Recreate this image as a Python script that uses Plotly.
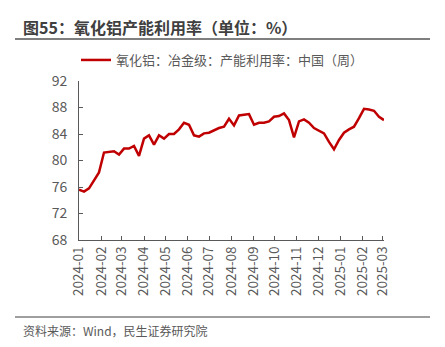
import pandas as pd
import plotly.graph_objects as go

start_date = "2024-01-01"
values = [75.6, 75.3, 75.8, 77.0, 78.2, 81.2, 81.3, 81.4, 80.9, 81.8,
          81.8, 82.2, 80.7, 83.3, 83.8, 82.4, 83.8, 83.3, 84.0, 84.0,
          84.7, 85.7, 85.4, 83.8, 83.6, 84.1, 84.2, 84.6, 84.9,
          85.1, 86.3, 85.3, 86.8, 86.9, 87.0, 85.4, 85.7, 85.7, 85.9,
          86.6, 86.7, 87.1, 86.1, 83.5, 85.9, 86.2, 85.7, 84.9, 84.5,
          84.1, 82.8, 81.7, 83.1, 84.2, 84.7, 85.1, 86.4, 87.8, 87.7,
          87.5, 86.6, 86.1]
dates = pd.date_range(start_date, periods=len(values), freq="7D")
tick_vals = pd.date_range("2024-01-01", "2025-03-01", freq="MS")
tick_text = [d.strftime("%Y-%m") for d in tick_vals]
y_ticks = [68, 72, 76, 80, 84, 88, 92]

series_name = "氧化铝：冶金级：产能利用率：中国（周）"
title = "图55：氧化铝产能利用率（单位：%）"
source = "资料来源：Wind，民生证券研究院"

FONT = "Noto Sans CJK SC"
GRAY = "#595959"
L, R, T, B = 79, 61, 81, 107
W, H = 445 - L - R, 347 - T - B

def px(x):
    return (x - L) / W

def py(y):
    return 1 - (y - T) / H

fig = go.Figure()
fig.add_trace(go.Scatter(x=dates, y=values, mode="lines", name=series_name,
                         line=dict(color="#C00000", width=2.5)))

fig.update_layout(
    width=445, height=347,
    margin=dict(l=L, r=R, t=T, b=B),
    paper_bgcolor="white", plot_bgcolor="white",
    font=dict(family=FONT, color=GRAY, size=13),
    showlegend=True,
    legend=dict(orientation="h", x=px(76), xanchor="left", y=py(60), yanchor="middle",
                font=dict(size=13, color=GRAY)),
    xaxis=dict(type="date", range=[dates[0], dates[-1]],
               tickvals=tick_vals, ticktext=tick_text, tickangle=-90,
               ticks="inside", ticklen=4, tickcolor=GRAY,
               showline=True, linecolor=GRAY, linewidth=1,
               showgrid=False, zeroline=False, tickfont=dict(size=13.5, color=GRAY)),
    yaxis=dict(range=[68, 92], tickvals=y_ticks, ticks="inside", ticklen=4,
               tickcolor=GRAY, showline=True, linecolor=GRAY, linewidth=1,
               ticklabelstandoff=8,
               showgrid=False, zeroline=False, tickfont=dict(size=14, color=GRAY)),
    shapes=[
        dict(type="line", xref="paper", yref="paper", x0=px(15), x1=px(430),
             y0=py(39), y1=py(39), line=dict(color="#7F7F7F", width=2)),
        dict(type="line", xref="paper", yref="paper", x0=px(15), x1=px(430),
             y0=py(317), y1=py(317), line=dict(color="#7F7F7F", width=1.5)),
    ],
    annotations=[
        dict(text="<b>" + title + "</b>", xref="paper", yref="paper", x=px(21), y=py(27),
             xanchor="left", yanchor="middle", showarrow=False,
             font=dict(size=16, color="#404040", family=FONT)),
        dict(text=source, xref="paper", yref="paper", x=px(21), y=py(330),
             xanchor="left", yanchor="middle", showarrow=False,
             font=dict(size=12, color=GRAY, family=FONT)),
    ],
)

fig.write_html("out.html")
